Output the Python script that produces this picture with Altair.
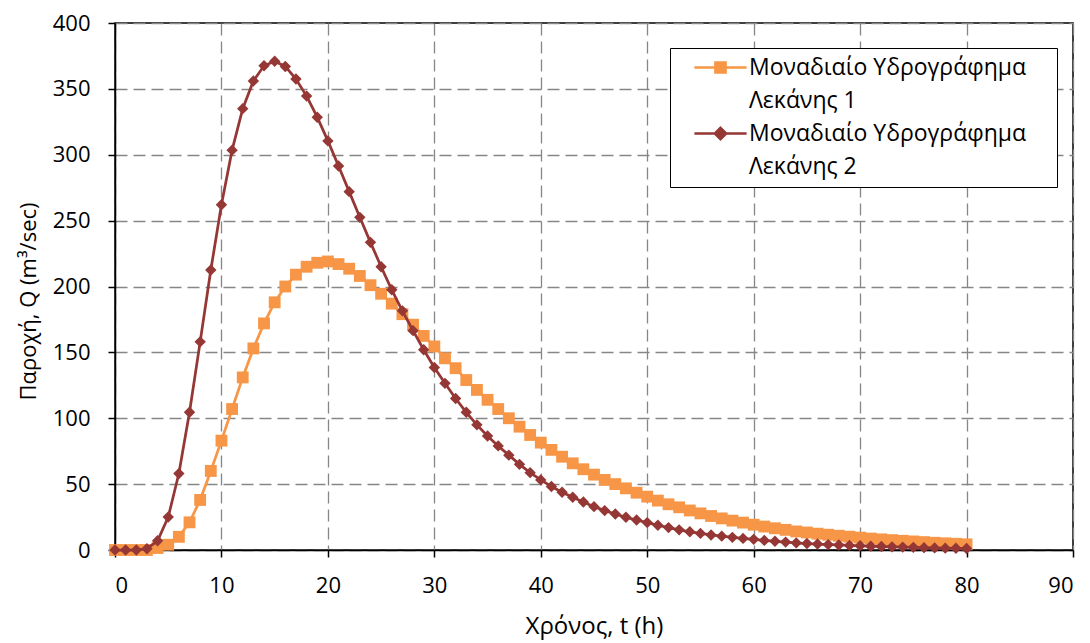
import altair as alt
import pandas as pd

# ---- data ----
t_hours = list(range(0, 81))

q_basin1 = [0, 0, 0, 0, 1.5, 4, 10, 21, 38, 60,
            83, 107, 131, 153, 172, 188, 200, 209, 215, 218,
            219, 217, 213.5, 208, 201, 194.5, 187, 179, 171, 162.5,
            154.5, 145.5, 138, 129, 121.5, 114, 107, 100, 93.6, 87.3,
            81.5, 76, 70.8, 65.8, 61.3, 57.2, 53.2, 50, 46.8, 43.5,
            40.5, 37.5, 34.7, 32.4, 30, 27.8, 25.8, 24, 22.3, 20.8,
            19.2, 17.8, 16.5, 15.3, 14.1, 13.3, 12.4, 11.6, 10.8, 10.1,
            9.4, 8.7, 8.1, 7.5, 7.0, 6.5, 6.0, 5.5, 5.1, 4.7, 4.3]

q_basin2 = [0, 0, 0, 1, 7, 25, 58, 104.5, 158, 212.5,
            262, 303.5, 335, 356, 367.5, 371, 367, 357.5, 344.5, 328.5,
            310.5, 291.5, 272, 252.5, 233.5, 215, 197.5, 181.5, 166.5, 152,
            138.5, 126.5, 115, 104.5, 95, 86.5, 79, 72, 65, 58.7,
            53.2, 48.2, 43.8, 40, 36.4, 32.9, 29.9, 27.3, 24.8, 22.8,
            20.8, 18.8, 17, 15.3, 13.8, 12.6, 11.4, 10.5, 9.6, 8.8,
            8.1, 7.3, 6.6, 6.0, 5.4, 4.9, 4.5, 4.1, 3.8, 3.5,
            3.2, 2.9, 2.6, 2.4, 2.2, 2.0, 1.8, 1.6, 1.4, 1.3, 1.1]

series_names = ["Λεκάνη 1", "Λεκάνη 2"]
series_colors = ["#F79646", "#953735"]

legend_keys = ["k1", "k2", "k3", "k4"]
legend_labels = ["Μοναδιαίο Υδρογράφημα", "Λεκάνης 1",
                 "Μοναδιαίο Υδρογράφημα", "Λεκάνης 2"]

x_ticks = list(range(0, 91, 10))
y_ticks = list(range(0, 401, 50))

FONT = "Open Sans"

df = pd.DataFrame({
    "t": t_hours * 2,
    "Q": q_basin1 + q_basin2,
    "series": [series_names[0]] * len(t_hours) + [series_names[1]] * len(t_hours),
})
leg_df = pd.DataFrame({"key": legend_keys, "label": legend_labels})

x_enc = alt.X("t:Q",
              scale=alt.Scale(domain=[0, 90], nice=False),
              axis=alt.Axis(values=x_ticks, title="Χρόνος, t (h)", format="d",
                            titleFontSize=24, titlePadding=18))
y_enc = alt.Y("Q:Q",
              scale=alt.Scale(domain=[0, 400], nice=False),
              axis=alt.Axis(values=y_ticks, title="Παροχή, Q (m³/sec)", format="d",
                            titleFontSize=22, titlePadding=12, titleY=278))

base = alt.Chart(df)


def series_layers(i, shape, size):
    sub = base.transform_filter(alt.datum.series == series_names[i])
    line = sub.mark_line(color=series_colors[i], strokeWidth=2.75, clip=False).encode(
        x=x_enc, y=y_enc)
    pts = sub.mark_point(shape=shape, filled=True, size=size, opacity=1,
                         color=series_colors[i], clip=False).encode(x=x_enc, y=y_enc)
    return [line, pts]


sq_path = "M-4.35,0H4.35M-0.85,-0.85H0.85V0.85H-0.85Z"
dm_path = "M-4.35,0H4.35M0,-0.95L0.95,0L0,0.95L-0.95,0Z"
blank_path = "M0,0Z"

label_expr = ("datum.value == 'k1' ? '" + legend_labels[0] + "' : "
              "datum.value == 'k2' ? '" + legend_labels[1] + "' : "
              "datum.value == 'k3' ? '" + legend_labels[2] + "' : '" + legend_labels[3] + "'")

leg = alt.Legend(orient="none", legendX=555, legendY=25,
                 title="|", titleOrient="right", titleOpacity=0, titleFontSize=20,
                 titlePadding=17,
                 labelExpr=label_expr, labelFont=FONT, labelFontSize=23,
                 labelColor="black", labelLimit=600,
                 symbolSize=144, symbolStrokeWidth=2.5, symbolOpacity=1,
                 symbolOffset=31, labelOffset=17,
                 padding=8, rowPadding=9,
                 strokeColor="black", fillColor="white")

leg_scale_color = alt.Scale(domain=legend_keys,
                            range=[series_colors[0], series_colors[0],
                                   series_colors[1], series_colors[1]])
legend_layer = alt.Chart(leg_df).transform_filter("false").mark_point(
    filled=False, opacity=1).encode(
    shape=alt.Shape("key:N", scale=alt.Scale(domain=legend_keys,
                                             range=[sq_path, blank_path, dm_path, blank_path]),
                    legend=leg),
    stroke=alt.Stroke("key:N", scale=leg_scale_color, legend=leg),
    fill=alt.Fill("key:N", scale=leg_scale_color, legend=leg),
)

layers = series_layers(0, "square", 140) + series_layers(1, "diamond", 130) + [legend_layer]

chart = alt.layer(*layers).properties(
    width=958, height=527,
    padding={"left": 115, "top": 23, "right": 17, "bottom": 93},
    autosize=alt.AutoSizeParams(type="none"),
    background="white",
).configure_view(
    stroke="black", strokeWidth=1.5
).configure_axis(
    labelFont=FONT, labelFontSize=22, labelColor="black",
    titleFont=FONT, titleColor="black", titleFontWeight="normal",
    domainColor="black", domainWidth=1.5,
    tickColor="black", tickWidth=1.5, tickSize=7,
    labelPadding=18,
    grid=True, gridColor="#868686", gridWidth=1.3, gridDash=[12, 6],
)

chart.save("out.html", embed_options={"renderer": "svg", "actions": False})
